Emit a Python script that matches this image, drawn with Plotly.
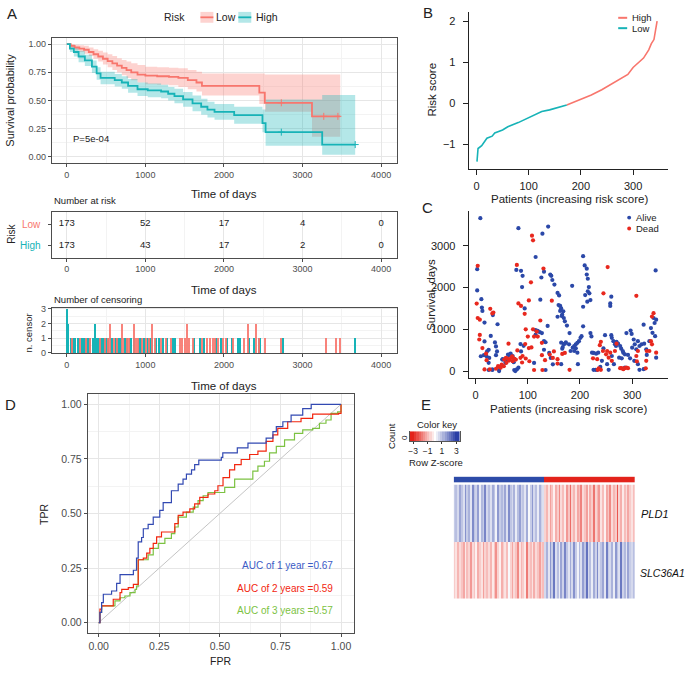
import plotly.graph_objects as go

# ================= DATA =================
# Panel A: Kaplan-Meier (step points)
low_time  = [0, 50, 100, 160, 220, 280, 340, 400, 460, 520, 580, 640, 700, 760, 820, 900, 1000, 1150, 1300, 1420, 1540, 1650, 1720, 2450, 2520, 3120, 3480]
low_surv  = [1.00, 0.985, 0.97, 0.96, 0.95, 0.93, 0.91, 0.89, 0.87, 0.85, 0.83, 0.81, 0.79, 0.77, 0.75, 0.73, 0.72, 0.715, 0.71, 0.70, 0.68, 0.66, 0.63, 0.57, 0.48, 0.36, 0.36]
low_upper = [1.00, 1.00, 0.995, 0.99, 0.985, 0.97, 0.955, 0.94, 0.925, 0.91, 0.895, 0.875, 0.86, 0.845, 0.83, 0.815, 0.80, 0.795, 0.79, 0.785, 0.77, 0.755, 0.74, 0.74, 0.73, 0.73, 0.73]
low_lower = [1.00, 0.96, 0.945, 0.93, 0.915, 0.895, 0.87, 0.845, 0.82, 0.795, 0.77, 0.75, 0.725, 0.70, 0.68, 0.66, 0.645, 0.64, 0.635, 0.62, 0.60, 0.58, 0.545, 0.47, 0.40, 0.18, 0.18]

high_time  = [0, 40, 90, 150, 230, 320, 380, 430, 610, 700, 780, 900, 1030, 1200, 1290, 1370, 1480, 1600, 1710, 1790, 1880, 2130, 2490, 2530, 3250, 3670]
high_surv  = [1.00, 0.96, 0.93, 0.89, 0.855, 0.80, 0.74, 0.70, 0.68, 0.66, 0.63, 0.60, 0.59, 0.58, 0.56, 0.54, 0.51, 0.475, 0.445, 0.42, 0.40, 0.37, 0.30, 0.22, 0.11, 0.11]
high_upper = [1.00, 0.99, 0.97, 0.94, 0.905, 0.855, 0.795, 0.755, 0.735, 0.715, 0.69, 0.66, 0.65, 0.64, 0.62, 0.605, 0.575, 0.545, 0.515, 0.49, 0.47, 0.445, 0.42, 0.51, 0.55, 0.55]
high_lower = [1.00, 0.93, 0.89, 0.84, 0.805, 0.745, 0.685, 0.645, 0.625, 0.605, 0.57, 0.54, 0.53, 0.52, 0.50, 0.475, 0.445, 0.405, 0.375, 0.35, 0.33, 0.295, 0.22, 0.10, 0.02, 0.02]

low_cens_time = [2730, 3270, 3450]
low_cens_surv = [0.48, 0.36, 0.36]
high_cens_time = [2730, 3670]
high_cens_surv = [0.22, 0.11]
p_value_text = "P=5e-04"

# Number at risk
risk_times = [0, 1000, 2000, 3000, 4000]
risk_low  = [173, 52, 17, 4, 0]
risk_high = [173, 43, 17, 2, 0]

# Number of censoring
cens_low_time = [60, 170, 250, 300, 420, 480, 530, 550, 600, 640, 700, 720, 760, 790, 850, 880, 900, 960, 1010, 1050, 1090, 1120, 1200, 1260, 1330, 1440, 1470, 1500, 1530, 1560, 1600, 1720, 1780, 1820, 1860, 1880, 1930, 1990, 2030, 2120, 2250, 2300, 2410, 2440, 2520, 2730, 3300, 3430, 3470]
cens_low_n    = [1, 1, 1, 1, 1, 1, 1, 2, 1, 1, 2, 1, 1, 1, 2, 1, 1, 1, 1, 1, 2, 1, 1, 1, 1, 1, 1, 1, 2, 1, 1, 1, 1, 1, 1, 1, 1, 1, 1, 1, 1, 2, 2, 1, 1, 1, 1, 1, 1]
cens_high_time = [0, 10, 20, 50, 80, 110, 140, 160, 190, 210, 230, 260, 280, 300, 330, 360, 380, 400, 420, 440, 460, 480, 500, 520, 560, 580, 620, 650, 670, 690, 740, 770, 800, 820, 860, 920, 940, 980, 1000, 1030, 1060, 1080, 1140, 1170, 1230, 1280, 1350, 1380, 1620, 1700, 1750, 1900, 1960, 2040, 2100, 2180, 2210, 2320, 2380, 2440, 2460, 2750, 3670]
cens_high_n    = [3, 2, 1, 1, 1, 1, 1, 1, 1, 1, 1, 1, 1, 1, 1, 2, 1, 1, 1, 1, 1, 1, 1, 1, 1, 1, 1, 1, 1, 1, 1, 1, 1, 1, 1, 1, 1, 1, 1, 1, 1, 1, 1, 1, 1, 1, 1, 1, 1, 1, 1, 1, 1, 1, 1, 1, 1, 1, 1, 1, 1, 1, 1]

# Panel B: risk score curve
low_rank  = [1, 3, 10, 20, 30, 35, 50, 60, 80, 100, 120, 125, 140, 160, 173]
low_score = [-1.42, -1.10, -1.03, -0.85, -0.80, -0.72, -0.65, -0.57, -0.47, -0.35, -0.25, -0.20, -0.16, -0.08, -0.04]
high_rank  = [173, 190, 200, 220, 240, 260, 280, 290, 300, 320, 330, 335, 340, 343, 346]
high_score = [-0.04, 0.05, 0.10, 0.20, 0.33, 0.48, 0.62, 0.70, 0.87, 1.10, 1.30, 1.45, 1.55, 1.75, 2.00]

# Panel C: survival status scatter
alive_patient = [9, 82, 128, 139, 115, 3, 78, 87, 90, 89, 126, 131, 143, 145, 147, 151, 157, 160, 3, 11,
                 12, 13, 17, 33, 42, 94, 124, 138, 162, 164, 168, 165, 157, 115, 119, 123, 127, 115, 131, 134,
                 17, 39, 29, 37, 25, 16, 21, 26, 41, 39, 52, 58, 64, 71, 86, 92, 87, 82, 74, 45,
                 32, 25, 112, 131, 141, 134, 144, 148, 169, 173, 166,
                 10, 22, 25, 32, 45, 51, 57, 62, 67, 73, 76, 79,
                 206, 209, 213, 213, 215, 217, 215, 218, 210, 220, 214, 206, 185, 345, 260, 258, 258, 159, 162, 166,
                 169, 171, 175, 180, 206, 220, 222, 164, 167, 171, 179, 182, 186, 189, 192, 195, 198, 201, 203, 195,
                 192, 189, 196, 164, 223, 226, 231, 235, 245, 248, 260, 261, 264, 267, 269, 270, 273, 277, 279, 282,
                 283, 286, 289, 297, 299, 303, 305, 308, 311, 314, 318, 322, 323, 327, 328, 333, 336, 339, 341, 343,
                 346, 344, 346, 300, 292, 296, 304, 311, 314, 322, 226, 230, 233, 255, 239, 275, 280, 286, 252, 242,
                 261, 265]
alive_days = [3660, 3420, 3290, 3460, 2730, 2440, 2420, 2400, 2280, 2010, 2240, 2380, 2310, 2280, 2180, 2070, 1870, 1810, 1930, 1720,
              1520, 1440, 1160, 1340, 1120, 1500, 1710, 1080, 1560, 1500, 1430, 1320, 1300, 980, 960, 930, 910, 870, 720, 690,
              710, 590, 840, 685, 510, 380, 355, 315, 470, 380, 285, 235, 380, 360, 645, 605, 470, 80, 25, 25,
              25, 25, 195, 510, 435, 25, 315, 160, 645, 685, 535,
              355, 474, 197, 40, 0, 276, 197, 395, 418, 213, 0, 40,
              2750, 2530, 2450, 2310, 2210, 2010, 1910, 1860, 1820, 1700, 1660, 1540, 2040, 2410, 1780, 1620, 1560, 1580, 1440, 1350,
              1270, 1190, 1090, 910, 1070, 910, 830, 680, 575, 655, 640, 480, 560, 600, 640, 675, 715, 795, 835, 440,
              545, 480, 165, 165, 440, 435, 415, 440, 545, 860, 860, 795, 715, 640, 600, 700, 655, 600, 535, 480,
              440, 400, 910, 970, 890, 755, 640, 520, 715, 600, 640, 1110, 655, 520, 385, 715, 1030, 915, 1270, 1150,
              1230, 835, 320, 560, 385, 305, 245, 165, 30, 45, 30, 30, 30, 30, 100, 320, 305, 85, 165, 245,
              360, 165]
dead_patient = [4, 108, 110, 79, 130, 106, 2, 82, 87, 102, 146, 28, 34, 32, 94, 4, 8, 124, 96, 8,
                7, 110, 100, 102, 107, 95, 112, 117, 119, 127, 13, 21, 20, 17, 27, 39, 46, 50, 55, 58,
                61, 64, 68, 71, 74, 77, 63, 80, 90, 89, 96, 103, 112, 128, 127, 142, 150, 148, 157, 133,
                166, 54, 59, 64, 70, 74, 86, 48, 43,
                253, 245, 308, 341, 338, 171, 180, 157, 238, 240, 244, 225, 233, 250, 252, 255, 258, 270, 267, 261,
                277, 280, 283, 286, 289, 292, 236, 234, 240, 308, 311, 327, 328, 333, 336, 338, 326, 346, 309]
dead_days = [2520, 3240, 3130, 2540, 2455, 2125, 1615, 1620, 1560, 1690, 1685, 1490, 1400, 1380, 1370, 1270, 1230, 1210, 1000, 865,
             755, 1000, 825, 550, 565, 645, 825, 945, 825, 675, 550, 260, 415, 40, 40, 55, 100, 155, 275, 315,
             300, 250, 315, 235, 290, 275, 655, 495, 360, 205, 300, 235, 25, 25, 380, 395, 470, 315, 285, 260,
             410, 118, 197, 276, 355, 292, 316, 79, 118,
             2490, 1860, 1800, 1385, 1305, 435, 30, 180, 620, 700, 480, 305, 285, 400, 480, 320, 440, 655, 480, 245,
             70, 70, 45, 70, 85, 70, 65, 30, 30, 360, 480, 245, 480, 480, 715, 640, 65, 440, 230]

# Panel D: time-dependent ROC
roc1_fpr = [0, 0.005, 0.012, 0.019, 0.053, 0.074, 0.088, 0.143, 0.156, 0.163, 0.177, 0.184, 0.204, 0.225, 0.252, 0.266, 0.30, 0.328, 0.348, 0.362, 0.383, 0.396, 0.413, 0.506, 0.512, 0.572, 0.616, 0.691, 0.719, 0.733, 0.76, 0.794, 0.842, 0.877, 0.911, 1.0]
roc1_tpr = [0, 0.047, 0.092, 0.13, 0.145, 0.18, 0.22, 0.24, 0.295, 0.37, 0.39, 0.43, 0.45, 0.483, 0.514, 0.55, 0.604, 0.634, 0.657, 0.68, 0.70, 0.724, 0.744, 0.757, 0.777, 0.80, 0.822, 0.845, 0.875, 0.898, 0.92, 0.95, 0.98, 1.0, 1.0, 1.0]
roc2_fpr = [0, 0.005, 0.012, 0.053, 0.06, 0.088, 0.095, 0.122, 0.143, 0.163, 0.184, 0.198, 0.211, 0.225, 0.239, 0.259, 0.30, 0.314, 0.328, 0.348, 0.376, 0.396, 0.417, 0.451, 0.479, 0.492, 0.513, 0.54, 0.561, 0.588, 0.623, 0.657, 0.691, 0.719, 0.739, 0.78, 0.835, 0.883, 0.99, 1.0]
roc2_tpr = [0, 0.062, 0.077, 0.077, 0.107, 0.137, 0.152, 0.16, 0.175, 0.288, 0.295, 0.318, 0.34, 0.363, 0.393, 0.415, 0.415, 0.453, 0.491, 0.506, 0.521, 0.544, 0.574, 0.589, 0.604, 0.627, 0.664, 0.70, 0.724, 0.747, 0.77, 0.785, 0.83, 0.86, 0.89, 0.92, 0.935, 0.955, 0.958, 1.0]
roc3_fpr = [0, 0.005, 0.012, 0.067, 0.088, 0.108, 0.129, 0.15, 0.156, 0.163, 0.204, 0.225, 0.246, 0.273, 0.30, 0.314, 0.328, 0.362, 0.39, 0.41, 0.431, 0.451, 0.52, 0.561, 0.636, 0.657, 0.684, 0.705, 0.733, 0.767, 0.808, 0.842, 0.883, 0.911, 0.938, 0.959, 0.986, 1.0]
roc3_tpr = [0, 0.047, 0.077, 0.10, 0.114, 0.122, 0.137, 0.152, 0.167, 0.288, 0.31, 0.34, 0.363, 0.386, 0.408, 0.438, 0.483, 0.506, 0.529, 0.559, 0.581, 0.596, 0.619, 0.657, 0.694, 0.717, 0.739, 0.777, 0.807, 0.837, 0.867, 0.883, 0.89, 0.913, 0.928, 0.958, 0.965, 1.0]
auc_labels = ["AUC of 1 year =0.67", "AUC of 2 years =0.59", "AUC of 3 years =0.57"]

# Panel E: heatmap (row Z-scores, columns ordered by increasing risk score)
genes = ["SLC36A1", "PLD1"]
pld1_z = [0.8, 1.0, 0.6, 1.4, 0.9, 0.5, 1.7, 0.8, 1.2, 0.4, 1.8, 0.9, 0.7, 1.5, 0.3, 1.1, 0.8, 1.9, 0.6, 1.0,
          0.5, 1.3, 0.9, 0.2, 1.6, 0.8, 1.1, 0.7, 1.4, 0.5, 1.8, 0.9, 0.6, 1.2, 0.3, 1.0, 1.5, 0.7, 0.9, 0.4,
          1.3, 0.1, 0.8, 1.6, 0.6, 1.0, 0.3, 1.2, 0.7, 0.5,
          -0.6, -1.0, -0.4, -1.3, -0.8, -0.2, -1.1, -0.7, -1.6, -0.5, -0.9, -0.3, -1.4, -0.8, -2.0, -0.6, -1.0, -0.4, -1.2, -0.9,
          -1.7, -0.5, -0.8, -1.3, -0.3, -1.1, -0.7, -1.9, -0.6, -1.0, -1.4, -0.4, -0.9, -0.2, -1.2, -0.8, -1.6, -0.5, -1.0, -0.7,
          -2.3, -0.6, -1.1, -0.3, -0.9, -0.5, -1.2, -0.7, -0.4, -0.9]
slc36a1_z = [-0.7, -0.4, -1.0, -0.5, -0.8, -1.2, -0.3, -0.9, -0.6, -1.4, -0.5, -0.8, -0.2, -1.1, -0.7, -0.4, -1.3, -0.6, -0.9, -0.5,
             -1.0, -0.3, -0.8, -1.5, -0.6, -0.2, -1.1, -0.7, -0.4, -0.9, 0.1, -0.6, -1.2, -0.5, -0.8, -1.6, -0.4, -1.0, -0.7, -0.3,
             -1.8, -0.6, -0.9, -0.4, -1.1, -0.5, -0.8, -1.3, -0.6, -0.9,
             0.6, 1.2, 0.4, 1.6, 0.8, 2.1, 0.5, 1.0, 0.3, 1.4, 0.7, 1.9, 0.9, 0.4, 1.3, 0.6, 1.7, 0.8, 0.2, 1.1,
             0.5, 1.5, 0.9, 2.2, 0.6, 1.0, 0.3, 1.3, 0.7, 1.8, 0.5, 0.9, 1.4, 0.4, 2.0, 0.8, 0.6, 1.2, 0.3, 1.6,
             0.9, 0.5, 2.1, 0.7, 1.1, 0.4, 1.4, 0.8, 0.6, 1.0]
n_low_cols, n_high_cols = 50, 50
key_values = [-3.3, -3.0, -2.7, -2.4, -2.1, -1.8, -1.5, -1.2, -0.9, -0.6, -0.3, 0.0, 0.3, 0.6, 0.9, 1.2, 1.5, 1.8, 2.1, 2.4, 2.7, 3.0, 3.3]
key_ticks = [-3, -1, 1, 3]

# ================= STYLE / LAYOUT =================
W, H = 688, 675
FONT = "Liberation Sans, Arial, sans-serif"
RED = "#F8766D"
TEAL = "#17B3B7"
RED_FILL = "rgba(248,118,109,0.32)"
TEAL_FILL = "rgba(23,179,183,0.32)"
ALIVE = "#2B48A8"
DEAD = "#E8281E"
HM_SCALE = [[0, "#E3231B"], [0.5, "#FFFFFF"], [1, "#2B3FA6"]]


def dx(a, b):
    return [a / W, b / W]


def dy(top, bottom):
    return [1 - bottom / H, 1 - top / H]


def gg_axis(domain, rng, tickvals, ticktext=None, minor_dtick=None, grid=True, anchor=None, fs=9):
    d = dict(domain=domain, range=rng, tickvals=tickvals, showgrid=grid, gridcolor="#E6E6E6", gridwidth=0.8,
             showline=True, linecolor="#4D4D4D", linewidth=1, mirror=True, ticks="outside", ticklen=3,
             tickcolor="#4D4D4D", zeroline=False, tickfont=dict(size=fs, color="#4D4D4D", family=FONT),
             anchor=anchor, fixedrange=True)
    if ticktext is not None:
        d["ticktext"] = ticktext
    if minor_dtick is not None and grid:
        d["minor"] = dict(dtick=minor_dtick, showgrid=True, gridcolor="#F3F3F3", gridwidth=0.6, ticks="")
    return d


def base_axis(domain, rng, tickvals, anchor, fs=11, standoff=2):
    return dict(domain=domain, range=rng, tickvals=tickvals, showgrid=False, showline=True,
                linecolor="#222", linewidth=1, mirror=False, ticks="outside", ticklen=5, tickcolor="#222",
                zeroline=False, tickfont=dict(size=fs, color="#222", family=FONT), anchor=anchor, fixedrange=True,
                ticklabelstandoff=standoff)


fig = go.Figure()

# ---- Panel A KM ----
fig.add_trace(go.Scatter(x=low_time, y=low_upper, mode="lines", line=dict(width=0, shape="hv"), xaxis="x", yaxis="y", hoverinfo="skip"))
fig.add_trace(go.Scatter(x=low_time, y=low_lower, mode="lines", line=dict(width=0, shape="hv"), fill="tonexty", fillcolor=RED_FILL, xaxis="x", yaxis="y", hoverinfo="skip"))
fig.add_trace(go.Scatter(x=high_time, y=high_upper, mode="lines", line=dict(width=0, shape="hv"), xaxis="x", yaxis="y", hoverinfo="skip"))
fig.add_trace(go.Scatter(x=high_time, y=high_lower, mode="lines", line=dict(width=0, shape="hv"), fill="tonexty", fillcolor=TEAL_FILL, xaxis="x", yaxis="y", hoverinfo="skip"))
fig.add_trace(go.Scatter(x=low_time, y=low_surv, mode="lines", line=dict(color=RED, width=1.8, shape="hv"), xaxis="x", yaxis="y"))
fig.add_trace(go.Scatter(x=high_time, y=high_surv, mode="lines", line=dict(color=TEAL, width=1.8, shape="hv"), xaxis="x", yaxis="y"))
fig.add_trace(go.Scatter(x=low_cens_time, y=low_cens_surv, mode="markers", marker=dict(symbol="cross-thin", size=5, line=dict(color=RED, width=1)), xaxis="x", yaxis="y"))
fig.add_trace(go.Scatter(x=high_cens_time, y=high_cens_surv, mode="markers", marker=dict(symbol="cross-thin", size=5, line=dict(color=TEAL, width=1)), xaxis="x", yaxis="y"))

# ---- Risk table ----
fig.add_trace(go.Scatter(x=risk_times, y=[1] * len(risk_times), mode="text", text=[str(v) for v in risk_low],
                         textfont=dict(size=9.5, color="#222", family=FONT), xaxis="x2", yaxis="y2"))
fig.add_trace(go.Scatter(x=risk_times, y=[0] * len(risk_times), mode="text", text=[str(v) for v in risk_high],
                         textfont=dict(size=9.5, color="#222", family=FONT), xaxis="x2", yaxis="y2"))

# ---- Censoring ----
fig.add_trace(go.Bar(x=cens_high_time, y=cens_high_n, width=16, marker=dict(color=TEAL, line=dict(width=0)), xaxis="x3", yaxis="y3"))
fig.add_trace(go.Bar(x=cens_low_time, y=cens_low_n, width=16, marker=dict(color=RED, line=dict(width=0)), opacity=0.9, xaxis="x3", yaxis="y3"))

# ---- Panel B ----
fig.add_trace(go.Scatter(x=low_rank, y=low_score, mode="lines", line=dict(color=TEAL, width=1.6), xaxis="x4", yaxis="y4"))
fig.add_trace(go.Scatter(x=high_rank, y=high_score, mode="lines", line=dict(color=RED, width=1.6), xaxis="x4", yaxis="y4"))

# ---- Panel C ----
fig.add_trace(go.Scatter(x=alive_patient, y=alive_days, mode="markers", marker=dict(color=ALIVE, size=4.2), xaxis="x5", yaxis="y5"))
fig.add_trace(go.Scatter(x=dead_patient, y=dead_days, mode="markers", marker=dict(color=DEAD, size=4.2), xaxis="x5", yaxis="y5"))

# ---- Panel D ----
fig.add_trace(go.Scatter(x=[0, 1], y=[0, 1], mode="lines", line=dict(color="#BDBDBD", width=0.9), xaxis="x6", yaxis="y6"))
fig.add_trace(go.Scatter(x=roc3_fpr, y=roc3_tpr, mode="lines", line=dict(color="#7CC242", width=1.2, shape="hv"), xaxis="x6", yaxis="y6"))
fig.add_trace(go.Scatter(x=roc2_fpr, y=roc2_tpr, mode="lines", line=dict(color="#F2260F", width=1.2, shape="hv"), xaxis="x6", yaxis="y6"))
fig.add_trace(go.Scatter(x=roc1_fpr, y=roc1_tpr, mode="lines", line=dict(color="#3249B2", width=1.2, shape="hv"), xaxis="x6", yaxis="y6"))

# ---- Panel E heatmap ----
fig.add_trace(go.Heatmap(z=[slc36a1_z, pld1_z], y=genes, colorscale=HM_SCALE, zmin=-3, zmax=3, showscale=False,
                         xaxis="x7", yaxis="y7", hoverinfo="skip"))
fig.add_trace(go.Heatmap(z=[[0] * n_low_cols + [1] * n_high_cols], colorscale=[[0, "#2D4BA8"], [1, "#E3231B"]],
                         zmin=0, zmax=1, showscale=False, xaxis="x8", yaxis="y8", hoverinfo="skip"))
fig.add_trace(go.Heatmap(z=[key_values], x=key_values, colorscale=HM_SCALE, zmin=-3, zmax=3, showscale=False,
                         xaxis="x9", yaxis="y9", hoverinfo="skip"))

# ---- Axes ----
xA = dx(50, 396)
layout_axes = dict(
    xaxis=gg_axis(xA, [-190, 4200], [0, 1000, 2000, 3000, 4000], minor_dtick=500, anchor="y"),
    yaxis=gg_axis(dy(34, 161), [-0.052, 1.058], [0, 0.25, 0.5, 0.75, 1.0], ["0.00", "0.25", "0.50", "0.75", "1.00"], minor_dtick=0.125, anchor="x"),
    xaxis2=gg_axis(xA, [-190, 4200], [0, 1000, 2000, 3000, 4000], minor_dtick=500, anchor="y2"),
    yaxis2=dict(gg_axis(dy(211, 257), [-0.545, 1.545], [0, 1], ["", ""], anchor="x2"), showgrid=False),
    xaxis3=gg_axis(xA, [-190, 4200], [0, 1000, 2000, 3000, 4000], minor_dtick=500, anchor="y3"),
    yaxis3=gg_axis(dy(308, 354), [-0.03, 3.07], [0, 1, 2, 3], minor_dtick=0.5, anchor="x3"),
    xaxis4=base_axis(dx(468, 668), [-15, 367], [0, 100, 200, 300], anchor="y4"),
    yaxis4=base_axis(dy(8, 167), [-1.593, 2.223], [-1, 0, 1, 2], anchor="x4", standoff=5),
    xaxis5=base_axis(dx(468, 668), [-13.4, 368.8], [0, 100, 200, 300], anchor="y5"),
    yaxis5=base_axis(dy(210, 379), [-165, 3827], [0, 1000, 2000, 3000], anchor="x5", standoff=5),
    xaxis6=gg_axis(dx(86, 353), [-0.0453, 1.0535], [0, 0.25, 0.5, 0.75, 1.0], ["0.00", "0.25", "0.50", "0.75", "1.00"], minor_dtick=0.125, anchor="y6", fs=10.5),
    yaxis6=gg_axis(dy(395, 638), [-0.0497, 1.0483], [0, 0.25, 0.5, 0.75, 1.0], ["0.00", "0.25", "0.50", "0.75", "1.00"], minor_dtick=0.125, anchor="x6", fs=10.5),
    xaxis7=dict(domain=dx(453, 635), showticklabels=False, showgrid=False, zeroline=False, anchor="y7", fixedrange=True),
    yaxis7=dict(domain=dy(487, 603), showticklabels=False, showgrid=False, zeroline=False, anchor="x7", fixedrange=True),
    xaxis8=dict(domain=dx(453, 635), showticklabels=False, showgrid=False, zeroline=False, anchor="y8", fixedrange=True),
    yaxis8=dict(domain=dy(479, 485), showticklabels=False, showgrid=False, zeroline=False, anchor="x8", fixedrange=True),
    xaxis9=dict(domain=dx(409, 459), range=[-3.45, 3.45], tickvals=key_ticks, ticktext=["\u22123", "\u22121", "1", "3"],
                ticks="outside", ticklen=2, tickcolor="#333", showgrid=False, zeroline=False, showline=True, linecolor="#555",
                tickfont=dict(size=8.5, color="#222", family=FONT), anchor="y9", fixedrange=True, ticklabelstandoff=0),
    yaxis9=dict(domain=dy(433, 443), showticklabels=False, showgrid=False, zeroline=False, anchor="x9", fixedrange=True,
                showline=True, linecolor="#555", mirror=True),
)


def ann(text, x, y, size=11, xanchor="center", yanchor="middle", color="#222", angle=0, italic=False):
    t = "<i>" + text + "</i>" if italic else text
    return dict(text=t, x=x / W, y=1 - y / H, xref="paper", yref="paper", showarrow=False, xanchor=xanchor,
                yanchor=yanchor, textangle=angle, font=dict(size=size, color=color, family=FONT))


annotations = [
    ann("A", 10, 10, size=15), ann("B", 427, 9, size=15), ann("C", 427, 206, size=15),
    ann("D", 9, 406, size=15), ann("E", 425, 406, size=15),
    ann("Survival probability", 8, 97, size=11, angle=-90),
    ann("Time of days", 223, 193, size=11.5),
    ann("Number at risk", 50, 199, size=9.5, xanchor="left"),
    ann("Risk", 10, 233, size=10, angle=-90),
    ann("Low", 41, 223, size=10, xanchor="right", color=RED),
    ann("High", 41, 245, size=10, xanchor="right", color=TEAL),
    ann("Time of days", 223, 290, size=11.5),
    ann("Number of censoring", 50, 299, size=9.5, xanchor="left"),
    ann("n. censor", 27, 333, size=9.5, angle=-90),
    ann("Time of days", 223, 387, size=11.5),
    ann("Risk", 186, 13, size=10.5, xanchor="right"),
    ann("Low", 213, 13, size=10.5, xanchor="left"),
    ann("High", 253, 13, size=10.5, xanchor="left"),
    ann("Risk score", 431, 87, size=11.5, angle=-90),
    ann("Patients (increasing risk score)", 569, 198, size=11.5),
    ann("High", 630, 13.5, size=9.5, xanchor="left"),
    ann("Low", 630, 24.5, size=9.5, xanchor="left"),
    ann("Survival, days", 430, 295, size=11.5, angle=-90),
    ann("Patients (increasing risk score)", 568, 410, size=11.5),
    ann("Alive", 634, 216.5, size=9.5, xanchor="left"),
    ann("Dead", 634, 227.5, size=9.5, xanchor="left"),
    ann("TPR", 42, 517, size=10.5, angle=-90),
    ann("FPR", 219, 666, size=10.5),
    ann(auc_labels[0], 334, 569, size=10, xanchor="right", color="#3A5BC6"),
    ann(auc_labels[1], 334, 592, size=10, xanchor="right", color="#F2260F"),
    ann(auc_labels[2], 334, 615, size=10, xanchor="right", color="#7CC242"),
    ann("Color key", 436, 426, size=9.5),
    ann("Row Z-score", 435, 465, size=9.5),
    ann("Count", 390, 438, size=9.5, angle=-90),
    ann("0", 403, 439, size=8, angle=-90),
    ann("PLD1", 639, 517, size=11, xanchor="left", color="#111", italic=True),
    ann("SLC36A1", 638, 577, size=10.5, xanchor="left", color="#111", italic=True),
    dict(text=p_value_text, x=55, y=0.165, xref="x", yref="y", showarrow=False, xanchor="left",
         font=dict(size=9.5, color="#222", family=FONT)),
]


def pshape(kind, x0, y0, x1, y1, **kw):
    return dict(type=kind, xref="paper", yref="paper", x0=x0 / W, x1=x1 / W, y0=1 - y0 / H, y1=1 - y1 / H, **kw)


shapes = [
    # KM legend keys
    pshape("rect", 199, 8, 212, 19, fillcolor=RED_FILL, line=dict(width=0)),
    pshape("line", 199, 13.5, 212, 13.5, line=dict(color=RED, width=1.8)),
    pshape("rect", 237, 8, 250, 19, fillcolor=TEAL_FILL, line=dict(width=0)),
    pshape("line", 237, 13.5, 250, 13.5, line=dict(color=TEAL, width=1.8)),
    # B legend
    pshape("line", 618, 14, 627, 14, line=dict(color=RED, width=2)),
    pshape("line", 618, 24.5, 627, 24.5, line=dict(color=TEAL, width=2)),
    # C legend
    pshape("circle", 627, 214.5, 631, 218.5, fillcolor=ALIVE, line=dict(width=0)),
    pshape("circle", 627, 225.5, 631, 229.5, fillcolor=DEAD, line=dict(width=0)),
]

fig.update_layout(
    width=W, height=H, margin=dict(l=0, r=0, t=0, b=0), paper_bgcolor="white", plot_bgcolor="white",
    showlegend=False, barmode="overlay", bargap=0, font=dict(family=FONT, color="#222"),
    annotations=annotations, shapes=shapes, **layout_axes,
)

fig.write_html("out.html", config={"displayModeBar": False},
               post_script="document.body.style.margin='0';document.body.style.padding='0';")
